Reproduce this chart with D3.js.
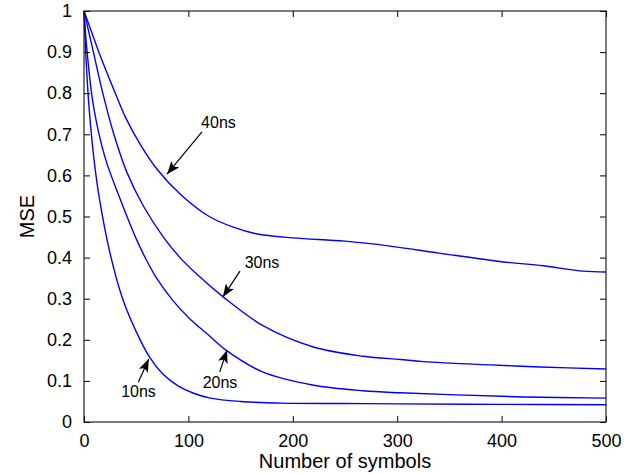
<!DOCTYPE html>
<html>
<head>
<meta charset="utf-8">
<script src="https://cdn.jsdelivr.net/npm/d3@7"></script>
<style>
  body { margin: 0; background: #fff; }
  svg { font-family: "Liberation Sans", Arial, sans-serif; }
</style>
</head>
<body>
<div id="chart"></div>
<script>
// curves: [symbols, MSE]
const ns10 = [[0,1.0],[2,0.88],[5,0.76],[10,0.63],[15,0.54],[25,0.41],[37,0.30],[50,0.22],[63,0.157],[75,0.118],[90,0.088],[105,0.07],[121,0.058],[150,0.05],[190,0.046],[250,0.045],[300,0.044],[400,0.043],[500,0.042]];
const ns20 = [[0,1.0],[3,0.9],[9,0.77],[20,0.645],[35,0.54],[51,0.44],[60,0.393],[70,0.348],[85,0.296],[101,0.252],[120,0.21],[137,0.173],[171,0.122],[219,0.09],[267,0.076],[303,0.071],[357,0.066],[420,0.061],[500,0.058]];
const ns30 = [[0,1.0],[9,0.9],[18,0.80],[28,0.705],[41,0.608],[57,0.525],[76,0.45],[92,0.40],[110,0.355],[133,0.305],[171,0.235],[219,0.183],[267,0.16],[303,0.152],[325,0.147],[389,0.139],[437,0.134],[500,0.129]];
const ns40 = [[0,1.0],[5,0.965],[15,0.895],[30,0.8],[40,0.74],[54,0.675],[70,0.615],[92,0.555],[120,0.50],[143,0.474],[165,0.458],[200,0.448],[250,0.44],[293,0.428],[340,0.411],[400,0.39],[440,0.38],[478,0.367],[500,0.365]];

const xTicks = [0, 100, 200, 300, 400, 500];
const yTicks = [0, 0.1, 0.2, 0.3, 0.4, 0.5, 0.6, 0.7, 0.8, 0.9, 1];

// annotations: label, text position, arrow tail, arrow tip (data units)
const notes = [
  { label: "40ns", text: [128.8, 0.715], from: [113, 0.706], to: [79.5, 0.603] },
  { label: "30ns", text: [170.5, 0.375], from: [149.4, 0.367], to: [133, 0.304] },
  { label: "20ns", text: [130.3, 0.083], from: [130, 0.122], to: [137, 0.175] },
  { label: "10ns", text: [52.2, 0.061], from: [52, 0.097], to: [62, 0.153] }
];

(() => {
  const width = 638, height = 474, margin = { top: 11, right: 32, bottom: 52, left: 84 };
  const w = width - margin.left - margin.right, h = height - margin.top - margin.bottom;

  const x = d3.scaleLinear().domain([0, 500]).range([0, w]);
  const y = d3.scaleLinear().domain([0, 1]).range([h, 0]);

  const svg = d3.select("#chart").append("svg")
    .attr("width", width).attr("height", height);

  svg.append("defs").append("marker")
    .attr("id", "head")
    .attr("viewBox", "0 0 13 10")
    .attr("refX", 13).attr("refY", 5)
    .attr("markerWidth", 13).attr("markerHeight", 10)
    .attr("markerUnits", "userSpaceOnUse")
    .attr("orient", "auto")
    .append("path")
    .attr("d", "M0,0 L13,5 L0,10 L3,5 Z")
    .attr("fill", "#000");

  const g = svg.append("g").attr("transform", `translate(${margin.left},${margin.top})`);

  const line = d3.line().x(d => x(d[0])).y(d => y(d[1])).curve(d3.curveCatmullRom.alpha(0.5));

  [ns10, ns20, ns30, ns40].forEach(s => {
    g.append("path")
      .datum(s)
      .attr("d", line)
      .attr("fill", "none")
      .attr("stroke", "#0000ff")
      .attr("stroke-width", 1.4);
  });

  // axes: ticks point inward, box on all sides
  const tickStyle = sel => {
    sel.select(".domain").remove();
    sel.selectAll(".tick line").attr("stroke", "#000");
    sel.selectAll(".tick text").attr("fill", "#000").style("font-size", "18px");
  };

  g.append("g").attr("transform", `translate(0,${h})`)
    .call(d3.axisBottom(x).tickValues(xTicks).tickSizeInner(-6).tickSizeOuter(0).tickPadding(12))
    .call(tickStyle);
  g.append("g")
    .call(d3.axisTop(x).tickValues(xTicks).tickSizeInner(-6).tickSizeOuter(0).tickFormat(""))
    .call(tickStyle);
  g.append("g")
    .call(d3.axisLeft(y).tickValues(yTicks).tickSizeInner(-6).tickSizeOuter(0).tickPadding(12).tickFormat(d3.format("~g")))
    .call(tickStyle);
  g.append("g").attr("transform", `translate(${w},0)`)
    .call(d3.axisRight(y).tickValues(yTicks).tickSizeInner(-6).tickSizeOuter(0).tickFormat(""))
    .call(tickStyle);

  g.append("rect")
    .attr("width", w).attr("height", h)
    .attr("fill", "none").attr("stroke", "#222").attr("stroke-width", 1.2);

  // annotations
  notes.forEach(n => {
    g.append("line")
      .attr("x1", x(n.from[0])).attr("y1", y(n.from[1]))
      .attr("x2", x(n.to[0])).attr("y2", y(n.to[1]))
      .attr("stroke", "#000").attr("stroke-width", 1.2)
      .attr("marker-end", "url(#head)");
    g.append("text")
      .attr("x", x(n.text[0])).attr("y", y(n.text[1]))
      .attr("text-anchor", "middle")
      .style("font-size", "16px")
      .text(n.label);
  });

  svg.append("text")
    .attr("x", margin.left + w / 2).attr("y", 468)
    .attr("text-anchor", "middle")
    .style("font-size", "20px")
    .text("Number of symbols");

  svg.append("text")
    .attr("transform", `translate(34,${margin.top + h / 2}) rotate(-90)`)
    .attr("text-anchor", "middle")
    .style("font-size", "20px")
    .text("MSE");
})();
</script>
</body>
</html>
